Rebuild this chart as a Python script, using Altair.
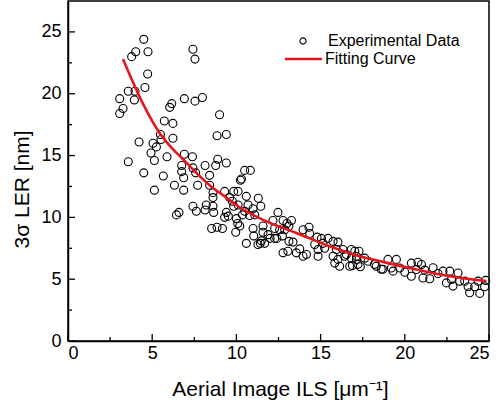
import altair as alt
import pandas as pd

# ---------------- data ----------------
exp_x = [
    4.5, 4.02, 3.78, 4.75, 7.42, 7.54, 4.73, 4.57, 3.58, 3.98, 3.07, 3.94, 3.27, 3.07,
    6.91, 7.54, 7.98, 6.16, 6.04, 9.0, 5.72, 6.23, 8.85, 9.4, 4.22, 5.49, 5.52, 5.05,
    5.25, 6.23, 3.58, 4.5, 4.93, 5.13, 5.88, 6.91, 7.39, 6.75, 6.75, 6.87, 7.42, 7.58,
    8.14, 8.41, 8.89, 8.77, 9.4, 5.66, 5.13, 6.32, 6.87, 7.7, 8.41, 8.61, 9.3, 9.84,
    10.1, 7.42, 7.62, 8.21, 8.14, 8.61, 8.65, 6.44, 6.59, 9.52, 8.53, 8.85, 9.17, 10.08,
    10.24, 10.3, 10.49, 10.83, 8.61,
    9.6, 9.76, 10.1, 10.59, 11.3, 10.69, 10.99, 11.45, 10.49, 11.09, 10.79, 9.4, 9.3,
    9.84, 10.0, 10.36, 10.2, 9.96, 10.99, 11.58, 11.58, 11.03, 11.48, 11.88, 11.42,
    10.59, 11.28, 11.68, 12.0, 12.27, 12.4, 12.17, 12.77, 13.27, 12.27, 12.87, 12.47,
    13.0, 13.12, 12.57,
    13.12, 13.36, 13.06, 13.56, 13.76, 12.73, 13.96, 14.31, 14.35, 14.79, 15.05, 15.44,
    15.14, 14.65, 14.85, 15.24, 15.74, 16.03, 15.94, 16.33, 16.83, 15.74, 16.03, 16.13,
    16.43, 16.83, 17.13, 16.73, 17.22, 13.96, 14.16, 14.85, 15.84, 12.77, 16.53,
    17.03, 17.28, 17.13, 16.89, 17.36, 17.62, 17.82, 18.31, 18.7, 19.0, 19.5, 19.2,
    19.7, 19.3, 20.0, 20.39, 20.39, 20.78, 20.99, 20.69, 21.18, 21.08, 21.48, 21.68,
    21.97, 22.27, 22.67, 23.16, 22.77, 22.47, 22.86, 23.26, 23.56, 23.76, 24.15, 23.85,
    24.45, 24.74, 24.35, 24.8, 18.2, 18.6,
]
exp_y = [
    24.4, 23.4, 23.0, 23.4, 23.6, 22.8, 21.6, 20.5, 20.2, 20.2, 19.6, 19.5, 18.8, 18.4,
    19.6, 19.4, 19.7, 19.2, 18.9, 18.3, 17.8, 17.6, 16.6, 16.7, 16.1, 16.7, 16.3, 16.0,
    15.7, 16.4, 14.5, 13.6, 15.2, 14.6, 14.9, 15.1, 14.9, 14.2, 13.7, 13.2, 14.0, 13.6,
    14.2, 13.4, 14.7, 14.2, 14.4, 13.35, 12.2, 12.6, 12.2, 12.6, 12.6, 12.0, 12.1, 12.1,
    12.1, 10.9, 10.5, 11.0, 10.6, 10.9, 10.4, 10.2, 10.4, 10.1, 9.1, 9.2, 9.1, 9.5,
    13.0, 13.1, 13.8, 13.8, 11.6,
    11.6, 11.3, 11.0, 11.7, 11.55, 11.0, 10.7, 10.9, 10.5, 10.2, 10.15, 10.4, 10.0,
    10.9, 9.9, 10.2, 9.3, 8.8, 9.1, 9.3, 8.8, 8.5, 8.1, 8.6, 7.9,
    7.9, 7.8, 7.9, 8.3, 8.3, 8.3, 9.75, 9.75, 9.75, 9.1, 9.0, 10.4,
    9.5, 9.3, 9.0,
    8.06, 8.0, 7.26, 7.13, 7.45, 8.5, 9.0, 9.2, 8.7, 8.4, 8.3, 8.3,
    7.9, 7.8, 7.4, 7.5, 8.06, 8.0, 7.4, 7.4, 7.4, 6.85, 6.6, 6.05,
    6.85, 6.7, 6.85, 6.05, 6.2, 6.85, 7.0, 6.85, 6.3, 7.13, 7.0,
    7.26, 7.26, 6.6, 6.1, 6.0, 6.7, 6.45, 6.05, 5.8, 6.6, 6.6, 5.9,
    5.9, 5.65, 5.56, 5.24, 6.3, 6.37, 6.19, 5.78, 5.73, 5.1, 5.03, 5.92,
    5.46, 5.65, 5.65, 5.5, 4.97, 4.7, 4.44, 4.84, 4.84, 4.39, 4.39, 3.9,
    3.85, 4.39, 4.84, 4.9, 6.2, 5.8,
]

fit_x = [3.27, 4.45, 5.45, 6.24, 6.83, 7.62, 8.41, 9.4, 10.1, 11.58, 13.56, 15.54,
         17.2, 18.7, 20.7, 22.67, 24.85]
fit_y = [22.8, 19.2, 16.8, 15.5, 14.7, 13.6, 12.6, 11.6, 10.9, 9.8, 8.74, 7.66,
         6.9, 6.4, 5.78, 5.24, 4.84]

x_major = [0, 5, 10, 15, 20, 25]
x_minor = [2.5, 7.5, 12.5, 17.5, 22.5]
y_major = [0, 5, 10, 15, 20, 25]
y_minor = [2.5, 7.5, 12.5, 17.5, 22.5]

legend_labels = ["Experimental Data", "Fitting Curve"]
x_title = "Aerial Image ILS [μm⁻¹]"
y_title = "3σ LER [nm]"

# ---------------- chart ----------------
W, H = 421, 340
FONT = "Liberation Sans"
RED = "#e8141c"

xs = alt.Scale(domain=[0, 25], nice=False, zero=False)
ys = alt.Scale(domain=[0, 27.5], nice=False, zero=False)

xaxis = alt.Axis(values=x_major, format="d", ticks=False, tickSize=0, grid=False,
                 labelPadding=3, labelFontSize=18, titleFontSize=21,
                 titleX=212, titleY=54, titleAlign="center", titleBaseline="alphabetic",
                 title=x_title)
yaxis = alt.Axis(values=y_major, format="d", ticks=False, tickSize=0, grid=False,
                 labelPadding=7, labelFontSize=18, titleFontSize=21,
                 titleX=-40, titleY=188, titleAngle=270, titleAlign="center",
                 titleBaseline="alphabetic", title=y_title)

pts = pd.DataFrame({"x": exp_x, "y": exp_y})
fit = pd.DataFrame({"x": fit_x, "y": fit_y})

points = alt.Chart(pts).mark_point(
    shape="circle", filled=False, size=64, color="black", strokeWidth=1.1, opacity=1
).encode(
    x=alt.X("x:Q", scale=xs, axis=xaxis),
    y=alt.Y("y:Q", scale=ys, axis=yaxis),
)

curve = alt.Chart(fit).mark_line(color=RED, strokeWidth=2.6, interpolate="monotone").encode(
    x=alt.X("x:Q", scale=xs),
    y=alt.Y("y:Q", scale=ys),
)

def xticks(vals, length):
    return alt.Chart(pd.DataFrame({"x": vals})).mark_rule(color="black", strokeWidth=1.3).encode(
        x=alt.X("x:Q", scale=xs),
        y=alt.value(H), y2=alt.value(H - length),
    )

def yticks(vals, length):
    return alt.Chart(pd.DataFrame({"y": vals})).mark_rule(color="black", strokeWidth=1.3).encode(
        y=alt.Y("y:Q", scale=ys),
        x=alt.value(0), x2=alt.value(length),
    )

leg_df = pd.DataFrame({"label": legend_labels})
leg_pt = alt.Chart(leg_df.iloc[[0]]).mark_point(
    shape="circle", filled=False, size=38, color="black", strokeWidth=1.1, opacity=1
).encode(x=alt.value(235), y=alt.value(40))
leg_line = alt.Chart(leg_df.iloc[[1]]).mark_rule(color=RED, strokeWidth=2.6).encode(
    x=alt.value(217), x2=alt.value(254), y=alt.value(58))
leg_txt1 = alt.Chart(leg_df.iloc[[0]]).mark_text(
    align="left", baseline="middle", fontSize=16, font=FONT, color="black"
).encode(x=alt.value(260), y=alt.value(40), text="label:N")
leg_txt2 = alt.Chart(leg_df.iloc[[1]]).mark_text(
    align="left", baseline="middle", fontSize=16, font=FONT, color="black"
).encode(x=alt.value(257), y=alt.value(58), text="label:N")

chart = alt.layer(
    points, curve,
    xticks(x_major, 7), xticks(x_minor, 4), yticks(y_major, 7), yticks(y_minor, 4),
    leg_pt, leg_line, leg_txt1, leg_txt2,
).properties(
    width=W, height=H,
    padding={"left": 68, "top": 1, "right": 9, "bottom": 63},
    autosize=alt.AutoSizeParams(type="none"),
    background="white",
).configure_view(
    stroke="black", strokeWidth=1.5
).configure_axis(
    domainColor="black", domainWidth=1.5,
    labelFont=FONT, titleFont=FONT, labelColor="black", titleColor="black",
    titleFontWeight="normal",
)

chart.save("out.html", embed_options={"renderer": "svg", "actions": False})
